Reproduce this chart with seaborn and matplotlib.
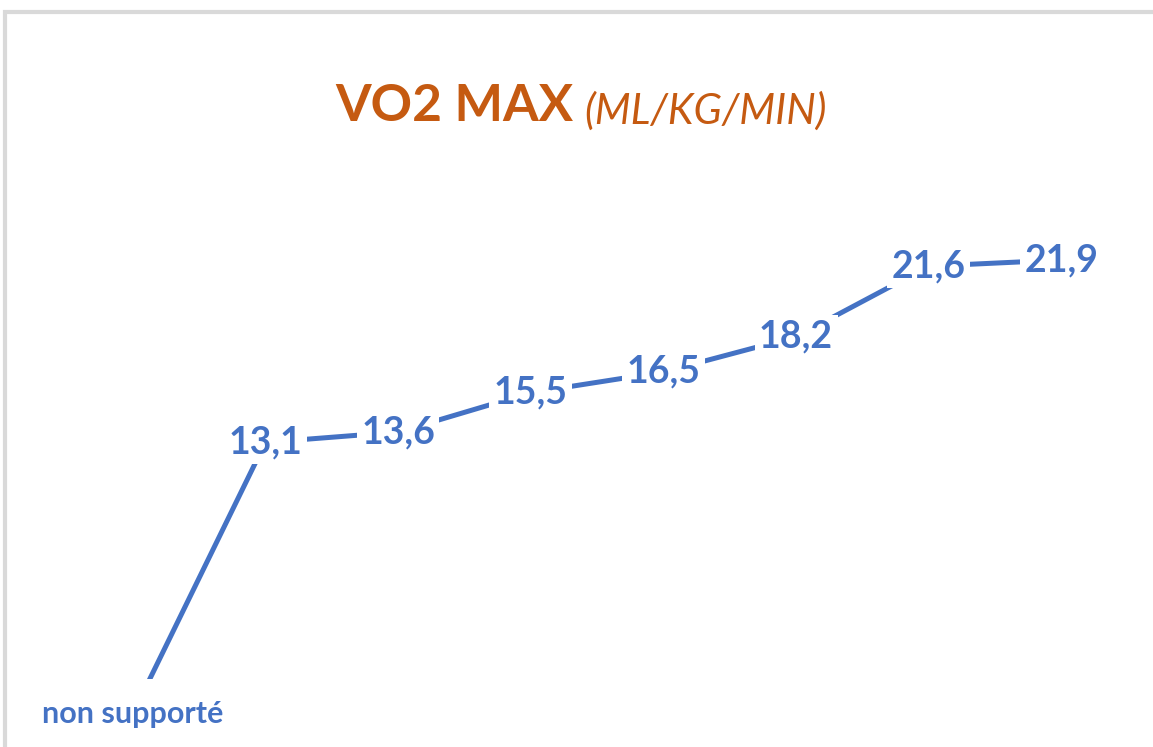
import pandas as pd
import matplotlib.pyplot as plt
import seaborn as sns
from matplotlib.patches import Rectangle

# Données
etapes = ["E0", "E1", "E2", "E3", "E4", "E5", "E6", "E7"]
vo2 = [0, 13.1, 13.6, 15.5, 16.5, 18.2, 21.6, 21.9]
etiquettes = ["non supporté", "13,1", "13,6", "15,5", "16,5", "18,2", "21,6", "21,9"]

bleu = "#4472C4"
orange = "#C55A11"

df = pd.DataFrame({"etape": etapes, "vo2": vo2})

sns.set_style("white")
plt.rcParams['font.family'] = ['Lato', 'DejaVu Sans']

fig = plt.figure(figsize=(11.53, 7.47), dpi=100)
ax = fig.add_axes([0, 0, 1, 1])

sns.lineplot(data=df, x="etape", y="vo2", color=bleu, linewidth=3.6,
             sort=False, ax=ax)

# Etiquettes sur les points
for i, (v, lab) in enumerate(zip(vo2, etiquettes)):
    if i == 0:
        fs, pad = 22, 0.7
    else:
        fs, pad = 27, 0.12
    ax.text(i, v, lab, ha="center", va="center", color=bleu, fontsize=fs,
            fontweight="bold",
            bbox=dict(boxstyle=f"square,pad={pad}", fc="white", ec="none"))

ax.set_xlim(-1.0, 7.69)
ax.set_ylim(-1.59, 34.44)
ax.axis("off")

# Titre
fig.text(0.497, 0.857, "VO2 MAX", ha="right", va="center", color=orange,
         fontsize=37, fontweight="bold")
fig.text(0.507, 0.852, "(ML/KG/MIN)", ha="left", va="center", color=orange,
         fontsize=30, fontstyle="italic")

# Cadre gris
fig.patches.append(Rectangle((5 / 1153, -0.1), 1.2, 1 - 12 / 747 + 0.1,
                             transform=fig.transFigure, fill=False,
                             ec="#d9d9d9", lw=3, zorder=0))

fig.savefig("out.png", dpi=100)
